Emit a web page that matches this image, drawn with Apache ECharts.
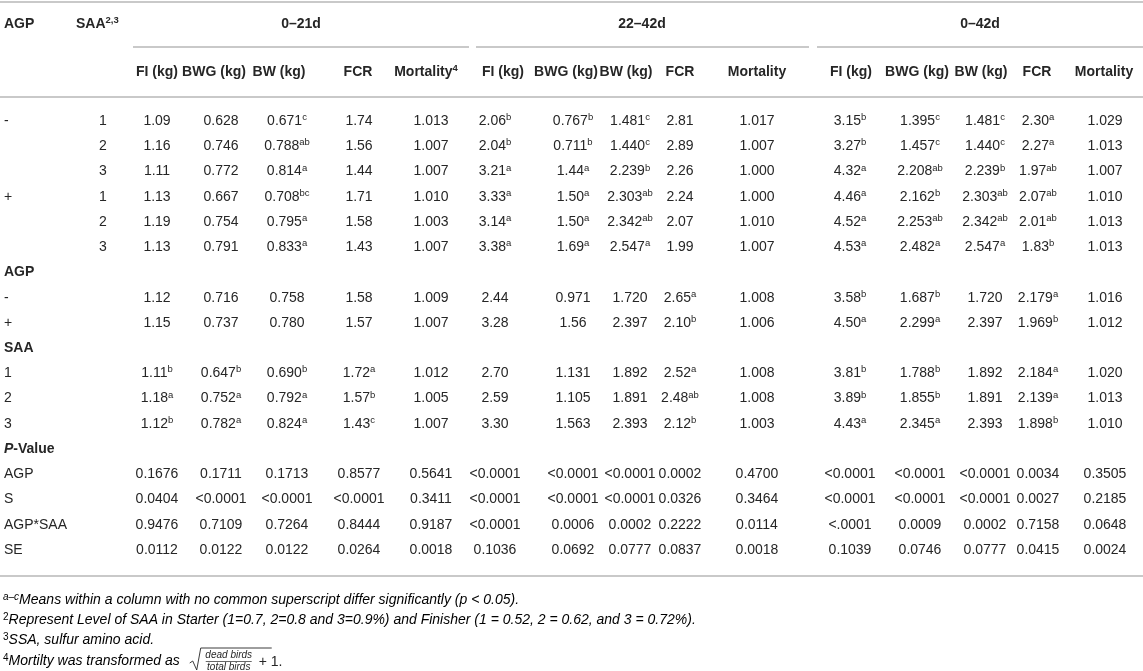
<!DOCTYPE html>
<html>
<head>
<meta charset="utf-8">
<script src="https://cdn.jsdelivr.net/npm/echarts@6/dist/echarts.min.js"></script>
<style>
html, body { margin: 0; padding: 0; background: #fff; }
#chart { width: 1143px; height: 671px; }
</style>
</head>
<body>
<div id="chart"></div>
<script>
// table text, superscript after ^
const periods = ['0–21d', '22–42d', '0–42d'];
const measures = ['FI (kg)', 'BWG (kg)', 'BW (kg)', 'FCR', 'Mortality'];
const agpLevels = ['-', '+'];
const saaLevels = ['1', '2', '3'];
const pTerms = ['AGP', 'S', 'AGP*SAA', 'SE'];

const agpMinus1 = ['1.09', '0.628', '0.671^c', '1.74', '1.013', '2.06^b', '0.767^b', '1.481^c', '2.81', '1.017', '3.15^b', '1.395^c', '1.481^c', '2.30^a', '1.029'];
const agpMinus2 = ['1.16', '0.746', '0.788^ab', '1.56', '1.007', '2.04^b', '0.711^b', '1.440^c', '2.89', '1.007', '3.27^b', '1.457^c', '1.440^c', '2.27^a', '1.013'];
const agpMinus3 = ['1.11', '0.772', '0.814^a', '1.44', '1.007', '3.21^a', '1.44^a', '2.239^b', '2.26', '1.000', '4.32^a', '2.208^ab', '2.239^b', '1.97^ab', '1.007'];
const agpPlus1 = ['1.13', '0.667', '0.708^bc', '1.71', '1.010', '3.33^a', '1.50^a', '2.303^ab', '2.24', '1.000', '4.46^a', '2.162^b', '2.303^ab', '2.07^ab', '1.010'];
const agpPlus2 = ['1.19', '0.754', '0.795^a', '1.58', '1.003', '3.14^a', '1.50^a', '2.342^ab', '2.07', '1.010', '4.52^a', '2.253^ab', '2.342^ab', '2.01^ab', '1.013'];
const agpPlus3 = ['1.13', '0.791', '0.833^a', '1.43', '1.007', '3.38^a', '1.69^a', '2.547^a', '1.99', '1.007', '4.53^a', '2.482^a', '2.547^a', '1.83^b', '1.013'];

const agpMeanMinus = ['1.12', '0.716', '0.758', '1.58', '1.009', '2.44', '0.971', '1.720', '2.65^a', '1.008', '3.58^b', '1.687^b', '1.720', '2.179^a', '1.016'];
const agpMeanPlus = ['1.15', '0.737', '0.780', '1.57', '1.007', '3.28', '1.56', '2.397', '2.10^b', '1.006', '4.50^a', '2.299^a', '2.397', '1.969^b', '1.012'];

const saaMean1 = ['1.11^b', '0.647^b', '0.690^b', '1.72^a', '1.012', '2.70', '1.131', '1.892', '2.52^a', '1.008', '3.81^b', '1.788^b', '1.892', '2.184^a', '1.020'];
const saaMean2 = ['1.18^a', '0.752^a', '0.792^a', '1.57^b', '1.005', '2.59', '1.105', '1.891', '2.48^ab', '1.008', '3.89^b', '1.855^b', '1.891', '2.139^a', '1.013'];
const saaMean3 = ['1.12^b', '0.782^a', '0.824^a', '1.43^c', '1.007', '3.30', '1.563', '2.393', '2.12^b', '1.003', '4.43^a', '2.345^a', '2.393', '1.898^b', '1.010'];

const pAGP = ['0.1676', '0.1711', '0.1713', '0.8577', '0.5641', '<0.0001', '<0.0001', '<0.0001', '0.0002', '0.4700', '<0.0001', '<0.0001', '<0.0001', '0.0034', '0.3505'];
const pS = ['0.0404', '<0.0001', '<0.0001', '<0.0001', '0.3411', '<0.0001', '<0.0001', '<0.0001', '0.0326', '0.3464', '<0.0001', '<0.0001', '<0.0001', '0.0027', '0.2185'];
const pAGPxSAA = ['0.9476', '0.7109', '0.7264', '0.8444', '0.9187', '<0.0001', '0.0006', '0.0002', '0.2222', '0.0114', '<.0001', '0.0009', '0.0002', '0.7158', '0.0648'];
const pSE = ['0.0112', '0.0122', '0.0122', '0.0264', '0.0018', '0.1036', '0.0692', '0.0777', '0.0837', '0.0018', '0.1039', '0.0746', '0.0777', '0.0415', '0.0024'];

// layout: column centres (x axis units = px), special row positions (y axis units = rows)
const headX = [0, 157, 214, 279, 358, 426, 503, 566, 626, 680, 757, 851, 917, 981, 1037, 1104];
const cellX = [103, 157, 221, 287, 359, 431, 495, 573, 630, 680, 757, 850, 920, 985, 1038, 1105];
const periodX = [301, 642, 980];
const periodSpan = [[133, 469], [476, 809], [817, 1143]];
const labelX = 4;
const saaHeadX = 76;
const rowHead1 = -3.85, rowHead2 = -1.946;
const ruleTop = -4.72, ruleGroup = -2.94, ruleHead = -0.955, ruleBottom = 18.03;

const TEXT = '#262626';
const RULE = '#c9c9c9';
const FONT = '"Liberation Sans", Arial, Helvetica, sans-serif';
const SIZE = 14;

function fmt(s, bold) {
    const parts = s.split('^');
    let out = '{' + (bold ? 'b' : 'n') + '|' + parts[0] + '}';
    if (parts[1]) out += '{' + (bold ? 'bs' : 's') + '|' + parts[1] + '}';
    return out;
}

const cells = [];
function cell(x, y, text, align, bold) {
    cells.push({ x: x, y: y, text: text, align: align || 'center', bold: !!bold });
}

// header
cell(labelX, rowHead1, 'AGP', 'left', true);
cell(saaHeadX, rowHead1, 'SAA^2,3', 'left', true);
periods.forEach((p, i) => cell(periodX[i], rowHead1, p, 'center', true));
periods.forEach((p, g) => {
    measures.forEach((m, k) => {
        const label = (g === 0 && m === 'Mortality') ? m + '^4' : m;
        cell(headX[1 + g * 5 + k], rowHead2, label, 'center', true);
    });
});

// body
let row = 0;
function bodyRow(values) {
    values.forEach((v, j) => cell(cellX[j + 1], row, v));
}
const treatRows = [agpMinus1, agpMinus2, agpMinus3, agpPlus1, agpPlus2, agpPlus3];
treatRows.forEach((vals, i) => {
    if (i % 3 === 0) cell(labelX, row, agpLevels[i / 3], 'left');
    cell(cellX[0], row, saaLevels[i % 3]);
    bodyRow(vals);
    row++;
});
cell(labelX, row++, 'AGP', 'left', true);
[agpMeanMinus, agpMeanPlus].forEach((vals, i) => {
    cell(labelX, row, agpLevels[i], 'left');
    bodyRow(vals);
    row++;
});
cell(labelX, row++, 'SAA', 'left', true);
[saaMean1, saaMean2, saaMean3].forEach((vals, i) => {
    cell(labelX, row, saaLevels[i], 'left');
    bodyRow(vals);
    row++;
});
cell(labelX, row++, '{bi|P}{b|-Value}', 'left', true);
[pAGP, pS, pAGPxSAA, pSE].forEach((vals, i) => {
    cell(labelX, row, pTerms[i], 'left');
    bodyRow(vals);
    row++;
});

const rules = [[0, 1143, ruleTop], [0, 1143, ruleHead], [0, 1143, ruleBottom]];
periodSpan.forEach(s => rules.push([s[0], s[1], ruleGroup]));

const rich = {
    n: { fontFamily: FONT, fontSize: SIZE, lineHeight: 17, color: TEXT },
    b: { fontFamily: FONT, fontSize: SIZE, lineHeight: 17, fontWeight: 'bold', color: TEXT },
    bi: { fontFamily: FONT, fontSize: SIZE, lineHeight: 17, fontWeight: 'bold', fontStyle: 'italic', color: TEXT },
    s: { fontFamily: FONT, fontSize: 9.5, lineHeight: 10, verticalAlign: 'top', color: TEXT },
    bs: { fontFamily: FONT, fontSize: 9.5, lineHeight: 10, fontWeight: 'bold', verticalAlign: 'top', color: TEXT }
};

const FOOT = 14;
const footRich = {
    i: { fontFamily: FONT, fontSize: FOOT, fontStyle: 'italic', lineHeight: 17, color: TEXT },
    si: { fontFamily: FONT, fontSize: 10, fontStyle: 'italic', lineHeight: 10, verticalAlign: 'top', color: TEXT },
    s: { fontFamily: FONT, fontSize: 10, lineHeight: 10, verticalAlign: 'top', color: TEXT }
};

const footnotes = [
    '{si|a–c}{i|Means within a column with no common superscript differ significantly (p < 0.05).}',
    '{s|2}{i|Represent Level of SAA in Starter (1=0.7, 2=0.8 and 3=0.9%) and Finisher (1 = 0.52, 2 = 0.62, and 3 = 0.72%).}',
    '{s|3}{i|SSA, sulfur amino acid.}',
    '{s|4}{i|Mortilty was transformed as}'
];
const footY = [601, 621, 641, 662];

// width of the footnote 4 lead text, to place the root after it
const ctx = document.createElement('canvas').getContext('2d');
ctx.font = '10px ' + FONT;
const supW = ctx.measureText('4').width;
ctx.font = 'italic ' + FOOT + 'px ' + FONT;
const rootX = 3 + supW + ctx.measureText('Mortilty was transformed as').width + 10;

const chart = echarts.init(document.getElementById('chart'), null, { renderer: 'canvas' });

const graphics = footnotes.map((t, i) => ({
    type: 'text', left: 3, top: footY[i] - 9,
    style: { text: t, rich: footRich }
}));
// square root term of footnote 4
const fracW = 46;
const fx = rootX + 16;
graphics.push(
    { type: 'polyline', shape: { points: [[rootX, 663], [rootX + 3, 661], [rootX + 7, 670], [rootX + 11, 648], [fx + fracW + 20, 648]] },
      style: { stroke: TEXT, lineWidth: 0.9, fill: null } },
    { type: 'text', x: fx + fracW / 2, y: 655, style: { text: 'dead birds', fontFamily: FONT, fontSize: 10, fontStyle: 'italic', fill: TEXT, align: 'center', verticalAlign: 'middle' } },
    { type: 'line', shape: { x1: fx, y1: 661.5, x2: fx + fracW, y2: 661.5 }, style: { stroke: TEXT, lineWidth: 0.7 } },
    { type: 'text', x: fx + fracW / 2, y: 667, style: { text: 'total birds', fontFamily: FONT, fontSize: 10, fontStyle: 'italic', fill: TEXT, align: 'center', verticalAlign: 'middle' } },
    { type: 'text', x: fx + fracW + 7, y: 662, style: { text: '+ 1.', fontFamily: FONT, fontSize: FOOT, fill: TEXT, verticalAlign: 'middle' } }
);

chart.setOption({
    animation: false,
    grid: { left: 0, right: 0, top: 0, bottom: 0 },
    xAxis: { type: 'value', min: 0, max: 1143, show: false },
    yAxis: { type: 'value', min: -4.8, max: 21.8, inverse: true, show: false },
    series: [
        {
            type: 'custom',
            data: rules,
            silent: true,
            renderItem: function (params, api) {
                const a = api.coord([api.value(0), api.value(2)]);
                const b = api.coord([api.value(1), api.value(2)]);
                return { type: 'line', shape: { x1: a[0], y1: a[1], x2: b[0], y2: b[1] },
                         style: { stroke: RULE, lineWidth: 2 } };
            }
        },
        {
            type: 'custom',
            data: cells.map((c, i) => [c.x, c.y, i]),
            silent: true,
            renderItem: function (params, api) {
                const c = cells[api.value(2)];
                const p = api.coord([api.value(0), api.value(1)]);
                const text = c.text.indexOf('{') === 0 ? c.text : fmt(c.text, c.bold);
                return { type: 'text', x: p[0], y: p[1],
                         style: { text: text, rich: rich, align: c.align, verticalAlign: 'middle', fill: TEXT } };
            }
        }
    ],
    graphic: graphics
});
window.addEventListener('resize', () => chart.resize());
</script>
</body>
</html>
